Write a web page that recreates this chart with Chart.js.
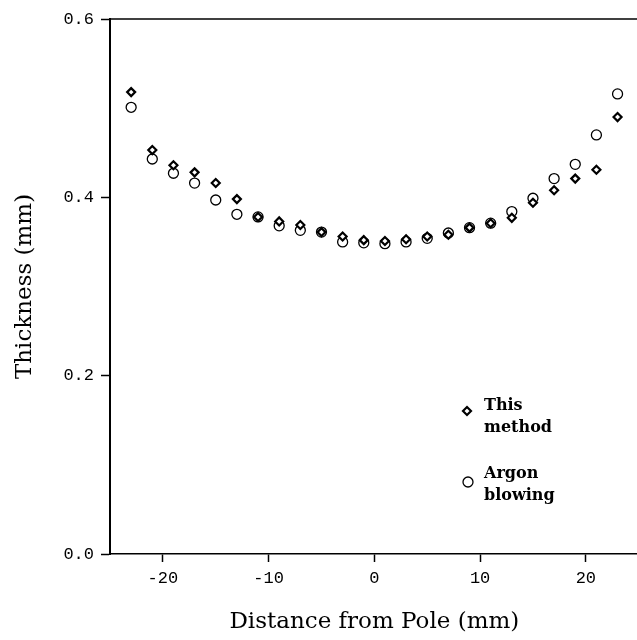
<!DOCTYPE html>
<html>
<head>
<meta charset="utf-8">
<script src="https://cdn.jsdelivr.net/npm/chart.js@4/dist/chart.umd.min.js"></script>
<style>
  html, body { margin: 0; padding: 0; background: #fff; overflow: hidden; }
  #wrap { width: 645px; height: 640px; }
</style>
</head>
<body>
<div id="wrap"><canvas id="chart" width="645" height="640"></canvas></div>
<script>
// distance from pole (mm)
const distances = [-23, -21, -19, -17, -15, -13, -11, -9, -7, -5, -3, -1, 1, 3, 5, 7, 9, 11, 13, 15, 17, 19, 21, 23];

// thickness (mm)
const thisMethod = [0.518, 0.453, 0.436, 0.428, 0.416, 0.398, 0.378, 0.373, 0.369, 0.361, 0.356, 0.352,
                    0.351, 0.353, 0.356, 0.358, 0.366, 0.371, 0.377, 0.394, 0.408, 0.421, 0.431, 0.490];
const argonBlowing = [0.501, 0.443, 0.427, 0.416, 0.397, 0.381, 0.378, 0.368, 0.363, 0.361, 0.350, 0.349,
                      0.348, 0.350, 0.354, 0.360, 0.366, 0.371, 0.384, 0.399, 0.421, 0.437, 0.470, 0.516];

const seriesNames = ['This method', 'Argon blowing'];
const xTicks = [-20, -10, 0, 10, 20];
const yTicks = [0, 0.2, 0.4, 0.6];

const toPoints = (ys) => ys.map((y, i) => ({ x: distances[i], y }));

const INK = '#000';
const tickFont = { family: 'Liberation Mono', size: 17 };
const titleFont = { family: 'DejaVu Serif', size: 23 };

// top frame line
const frameTop = {
  id: 'frameTop',
  afterDraw(chart) {
    const { ctx, chartArea } = chart;
    ctx.save();
    ctx.strokeStyle = INK;
    ctx.lineWidth = 1.5;
    ctx.beginPath();
    ctx.moveTo(chartArea.left, chartArea.top);
    ctx.lineTo(chartArea.right, chartArea.top);
    ctx.stroke();
    ctx.restore();
  },
};

// legend inside the plot, markers taken from the datasets
const innerLegend = {
  id: 'innerLegend',
  afterDraw(chart) {
    const { ctx } = chart;
    const spots = [{ mx: 467, my: 411, ty: 406 }, { mx: 468, my: 482, ty: 474 }];
    ctx.save();
    chart.data.datasets.forEach((ds, i) => {
      const s = spots[i];
      ctx.strokeStyle = ds.borderColor;
      ctx.fillStyle = ds.backgroundColor;
      ctx.lineWidth = ds.borderWidth;
      ctx.beginPath();
      if (ds.pointStyle === 'rectRot') {
        const r = ds.pointRadius;
        ctx.moveTo(s.mx, s.my - r);
        ctx.lineTo(s.mx + r, s.my);
        ctx.lineTo(s.mx, s.my + r);
        ctx.lineTo(s.mx - r, s.my);
        ctx.closePath();
      } else {
        ctx.arc(s.mx, s.my, ds.pointRadius, 0, Math.PI * 2);
      }
      ctx.fill();
      ctx.stroke();
      ctx.fillStyle = INK;
      ctx.font = 'bold 16px "DejaVu Serif"';
      ctx.textBaseline = 'middle';
      ds.label.split(' ').forEach((word, k) => {
        ctx.fillText(word, 484, s.ty + k * 22);
      });
    });
    ctx.restore();
  },
};

new Chart(document.getElementById('chart'), {
  type: 'scatter',
  data: {
    datasets: [
      {
        label: seriesNames[0],
        data: toPoints(thisMethod),
        pointStyle: 'rectRot',
        pointRadius: 4,
        borderWidth: 2.2,
        borderColor: INK,
        backgroundColor: '#fff',
      },
      {
        label: seriesNames[1],
        data: toPoints(argonBlowing),
        pointStyle: 'circle',
        pointRadius: 5,
        borderWidth: 1.3,
        borderColor: INK,
        backgroundColor: 'rgba(255,255,255,0)',
      },
    ],
  },
  options: {
    responsive: false,
    animation: false,
    layout: { padding: { top: 19, right: 0, left: 0, bottom: 0 } },
    plugins: { legend: { display: false }, tooltip: { enabled: false } },
    scales: {
      x: {
        type: 'linear',
        min: -25,
        max: 25,
        afterBuildTicks: (scale) => { scale.ticks = xTicks.map((v) => ({ value: v })); },
        afterFit: (scale) => { scale.height = 86; scale.paddingLeft = 0; scale.paddingRight = 0; },
        border: { display: true, color: INK, width: 1.5 },
        grid: { drawOnChartArea: false, drawTicks: true, tickLength: 8, tickColor: INK, tickWidth: 1.5 },
        ticks: { color: INK, font: tickFont, padding: 6, maxRotation: 0 },
        title: { display: true, text: 'Distance from Pole (mm)', color: INK, font: titleFont, padding: { top: 0, bottom: 4 } },
      },
      y: {
        type: 'linear',
        min: 0,
        max: 0.6,
        afterBuildTicks: (scale) => { scale.ticks = yTicks.map((v) => ({ value: v })); },
        afterFit: (scale) => { scale.width = 110; scale.paddingTop = 0; scale.paddingBottom = 0; },
        border: { display: true, color: INK, width: 2 },
        grid: { drawOnChartArea: false, drawTicks: true, tickLength: 9, tickColor: INK, tickWidth: 1.5 },
        ticks: { color: INK, font: tickFont, padding: 7, callback: (v) => Number(v).toFixed(1) },
        title: { display: true, text: 'Thickness (mm)', color: INK, font: titleFont, padding: { top: 11, bottom: 0 } },
      },
    },
  },
  plugins: [frameTop, innerLegend],
});
</script>
</body>
</html>
